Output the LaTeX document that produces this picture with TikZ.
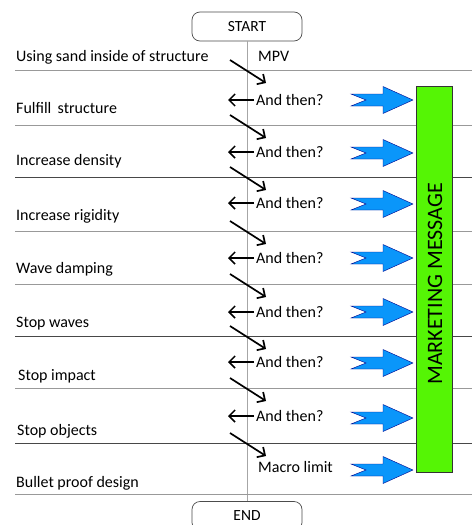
\documentclass[tikz,border=0pt]{standalone}
\usepackage{fontspec}
\setmainfont{Carlito}
\usetikzlibrary{arrows.meta}
\definecolor{bluefill}{RGB}{10,150,250}
\definecolor{greenfill}{RGB}{85,245,5}
\begin{document}
\begin{tikzpicture}[x=1pt,y=-1pt,
  lbl/.style={anchor=base west,inner sep=0pt,font=\fontsize{16}{19}\selectfont},
  sepl/.style={draw=black!40,line width=1pt},
  sepd/.style={draw=black!72,line width=1pt},
  term/.style={draw=black!70,line width=0.7pt,rounded corners=8pt,minimum width=110pt,minimum height=29pt,font=\fontsize{15.5}{18}\selectfont,inner sep=0pt},
  flow/.style={line width=1.7pt,-{Straight Barb[length=6pt,width=12pt]}},
  back/.style={line width=1.5pt,-{Straight Barb[length=6pt,width=12pt]}},
  blarrow/.pic={\filldraw[fill=bluefill,draw=blue!55!black,line width=0.4pt]
     (0,-6)--(32,-6)--(32,-13.5)--(62,0)--(32,13.5)--(32,6)--(0,6)--(15,0)--cycle;}
]
\fill[white] (0,0) rectangle (472,525);
\useasboundingbox (0,0) rectangle (472,525);

% terminals
\node[term] (start) at (247,26.5) {START};
\node[term] (end) at (247,516) {END};
\draw[black!35,line width=1pt] (start.south) -- (end.north);

% separators
\foreach \yy/\st in {70/sepl,125/sepl,177/sepd,231/sepl,284/sepl,336/sepd,388/sepl,443/sepd,494/sepl}
  \draw[\st] (15,\yy) -- (472,\yy);

% left labels
\node[lbl] (l1) at (16,61) {Using sand inside of structure};
\node[lbl] (l2) at (16,113) {Fulfill\, structure};
\node[lbl] (l3) at (16,165) {Increase density};
\node[lbl] (l4) at (16,220) {Increase rigidity};
\node[lbl] (l5) at (16,273) {Wave damping};
\node[lbl] (l6) at (16,327) {Stop waves};
\node[lbl] (l7) at (18,380) {Stop impact};
\node[lbl] (l8) at (17,435) {Stop objects};
\node[lbl] (l9) at (16,487) {Bullet proof design};

% middle labels
\node[lbl] (mpv) at (258,61) {MPV};
\node[lbl] (q1) at (256,105.5) {And then?};
\node[lbl] (q2) at (256,157.5) {And then?};
\node[lbl] (q3) at (256,208.5) {And then?};
\node[lbl] (q4) at (256,263.5) {And then?};
\node[lbl] (q5) at (256,317.5) {And then?};
\node[lbl] (q6) at (256,367.5) {And then?};
\node[lbl] (q7) at (256,421.5) {And then?};
\node[lbl] (ml) at (258,472.5) {Macro limit};

% back arrows
\foreach \i/\yy in {1/100,2/152,3/203,4/258,5/312,6/362,7/416}{
  \coordinate (bs\i) at (254,\yy);
  \coordinate (be\i) at (228,\yy);
  \draw[back] (bs\i) -- (be\i);
}

% diagonal arrows
\foreach \i/\yy in {1/70,2/125,3/177,4/231,5/284,6/336,7/388,8/443}{
  \coordinate (ds\i) at (230,\yy-10);
  \coordinate (de\i) at (266,\yy+13);
  \draw[flow] (ds\i) -- (de\i);
}

% marketing message
\node[draw=black!80,fill=greenfill,line width=0.7pt,minimum width=36pt,minimum height=386pt,inner sep=0pt] (mm) at (434,279) {};
\node[rotate=90,font=\fontsize{22}{25}\selectfont,inner sep=0pt] (mmt) at (435,284) {MARKETING MESSAGE};

% blue arrows
\foreach \i/\yy in {1/100,2/153,3/204,4/258,5/312,6/363,7/418,8/470}
  \pic (ba\i) at (351,\yy) {blarrow};
\end{tikzpicture}
\end{document}
